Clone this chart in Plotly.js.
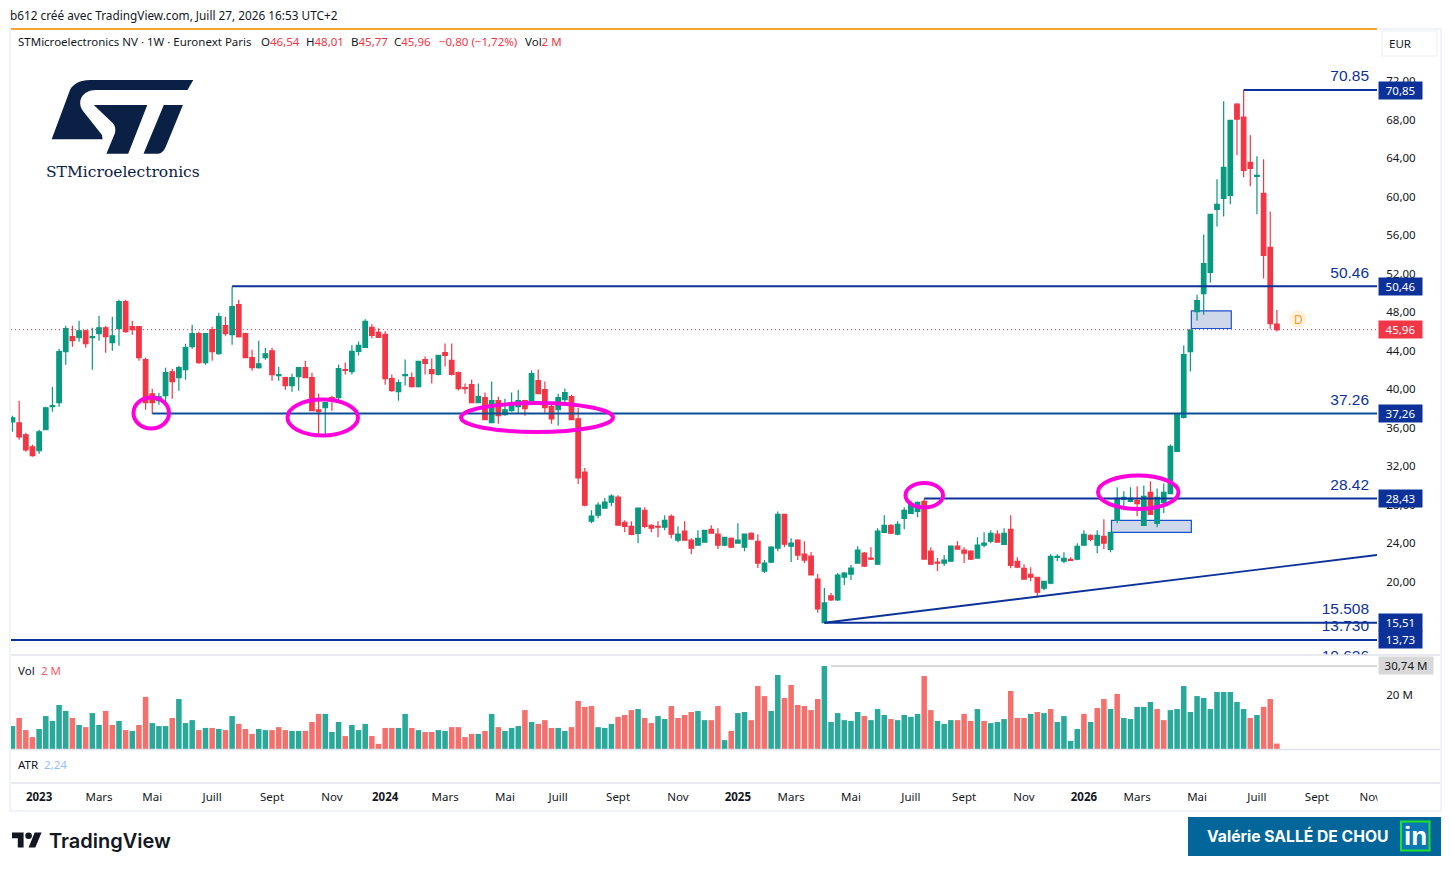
<!DOCTYPE html>
<html>
<head>
<meta charset="utf-8">
<script src="https://cdn.plot.ly/plotly-3.0.1.min.js"></script>
<style>html,body{margin:0;padding:0;background:#fff;overflow:hidden}</style>
</head>
<body>
<div id="chart" style="width:1451px;height:871px"></div>
<script>
// ---------- data ----------
const firstWeek = [2022, 11, 5];
const open = [
36.39,36.29,35.04,33.79,33.38,35.56,37.95,38.37,43.67,45.23,
45.12,45.85,45.12,45.54,46.16,44.61,46.06,48.87,46.27,46.27,
42.84,39.30,38.58,39.10,41.59,40.97,41.80,44.19,45.54,42.53,
45.96,43.46,46.37,45.44,48.56,45.54,43.05,42.01,43.05,43.77,
41.17,40.97,40.14,41.07,42.01,40.97,37.64,37.85,38.89,38.90,
41.82,41.61,43.70,44.12,46.21,45.68,45.47,40.88,39.52,41.19,
40.99,40.05,42.86,41.82,41.30,43.59,42.76,41.51,39.94,40.25,
38.38,38.90,36.29,38.58,37.12,37.54,37.96,38.58,38.58,40.67,
39.73,37.96,37.64,38.69,39.00,36.70,31.17,26.06,26.68,27.41,
28.04,28.56,25.95,25.53,24.80,27.20,25.64,25.53,25.43,26.57,
24.09,25.02,24.09,23.57,23.88,25.22,24.71,23.57,24.29,23.78,
23.36,24.81,23.98,20.88,21.81,23.26,26.77,23.47,24.09,22.64,
22.43,20.05,15.51,18.30,17.88,20.26,20.57,21.71,22.74,22.23,
21.60,24.91,25.64,24.71,26.36,26.88,27.08,28.12,22.95,21.81,
21.71,21.91,23.47,23.05,22.95,22.23,23.57,23.98,24.71,23.66,
25.22,21.90,21.17,20.55,20.24,19.10,19.62,22.31,21.90,22.11,
22.11,23.56,24.60,23.56,24.49,23.14,26.15,28.33,28.12,28.23,
25.63,29.06,25.84,28.02,28.92,33.31,36.84,43.68,47.83,49.71,
51.90,58.46,59.60,59.91,69.39,68.04,63.35,61.89,60.12,54.50,46.54];
const high = [
37.02,38.58,35.25,34.00,35.56,37.95,40.03,43.98,46.37,46.37,
46.89,45.96,46.16,47.41,46.37,47.31,49.07,49.07,46.89,46.27,
43.05,39.82,39.41,42.01,41.90,42.21,44.50,46.48,45.75,45.54,
46.27,47.72,47.31,50.43,49.07,45.64,43.88,44.81,44.09,44.09,
42.11,41.07,41.38,42.01,42.73,41.49,39.30,38.37,39.10,42.34,
42.55,44.33,44.74,47.04,46.52,46.10,45.79,41.30,40.78,42.86,
41.51,42.66,43.18,42.97,43.28,44.53,44.53,41.61,40.36,40.78,
40.36,39.42,40.57,39.00,38.79,39.42,39.73,38.69,41.72,41.82,
40.57,38.27,39.31,39.84,39.21,37.85,31.59,27.20,28.04,28.46,
28.87,28.77,26.16,26.06,27.41,27.52,25.74,26.06,26.67,26.77,
25.53,26.05,24.29,25.12,25.12,25.64,25.33,24.39,24.39,25.84,
24.71,24.91,24.71,22.02,23.47,27.08,26.77,24.29,24.19,23.98,
22.85,20.57,19.12,18.61,20.67,20.78,21.50,23.47,22.85,23.36,
25.33,26.67,25.74,26.05,27.50,28.22,28.12,28.43,23.36,22.23,
22.54,23.47,23.98,23.36,23.05,24.39,24.91,25.12,25.12,25.32,
26.67,22.31,21.59,21.28,20.24,19.82,22.63,22.63,22.83,22.31,
23.77,25.12,24.70,25.12,26.26,24.91,29.58,29.16,29.58,29.68,
29.78,30.20,29.47,29.99,34.04,37.25,44.31,45.93,49.60,55.85,
57.94,61.58,69.70,67.72,69.49,70.85,66.16,63.97,63.66,58.25,48.01];
const low = [
35.35,34.52,33.27,32.75,33.07,35.56,37.43,37.95,42.32,44.19,
44.71,44.09,41.80,44.81,43.57,43.77,44.29,45.64,45.44,42.73,
37.64,37.22,38.16,38.40,38.78,39.62,40.76,43.98,42.42,42.32,
42.73,43.36,45.33,44.40,45.12,43.05,41.69,41.90,42.84,40.66,
40.66,39.72,39.51,39.62,40.97,37.54,35.15,35.15,37.54,38.58,
41.30,41.30,43.28,44.12,45.06,45.16,40.25,39.52,38.58,40.15,
39.94,39.94,41.30,40.36,41.19,42.13,41.19,39.63,39.31,38.38,
38.38,36.60,36.29,36.18,37.02,37.44,37.23,37.02,38.58,39.31,
37.33,36.18,35.97,38.38,36.60,29.92,27.62,25.85,26.37,27.41,
27.62,25.64,24.91,24.59,23.76,25.33,24.91,24.39,25.12,24.29,
23.88,24.09,22.64,23.57,23.88,24.81,23.16,23.47,23.26,23.78,
22.95,24.19,21.19,20.67,21.71,22.95,23.36,21.81,22.02,21.71,
20.47,16.54,15.51,17.78,17.78,19.43,19.95,21.71,21.29,22.02,
21.50,24.91,24.71,24.60,25.22,26.88,26.46,22.12,21.50,20.88,
21.40,21.81,23.16,21.71,22.02,22.23,23.36,23.78,23.88,23.66,
21.17,21.17,20.03,19.82,18.16,18.89,19.51,21.90,21.69,22.00,
22.00,23.56,23.97,22.73,23.14,22.83,25.84,27.19,28.02,26.57,
25.63,26.77,25.43,26.88,28.92,33.31,36.73,41.61,46.90,47.52,
50.85,56.69,57.73,58.98,64.08,61.79,60.85,57.94,51.27,46.06,45.77];
const close = [
36.81,34.83,33.48,32.86,35.35,37.85,38.06,43.67,46.06,44.81,
45.85,44.50,45.23,46.16,45.23,45.33,48.87,45.75,45.96,43.05,
38.37,38.37,38.99,41.49,40.55,42.01,44.09,45.54,42.53,45.54,
43.67,47.31,45.54,48.35,45.23,43.05,42.01,42.42,43.46,41.28,
41.28,40.14,40.97,42.01,40.97,37.54,37.43,38.37,38.58,41.92,
41.72,43.70,44.33,46.83,45.37,45.16,40.88,39.63,40.46,41.30,
40.05,42.66,42.45,41.40,43.28,43.28,41.30,39.84,39.84,38.38,
39.00,36.60,38.58,37.02,37.64,38.06,38.58,37.75,41.40,39.31,
37.85,36.70,38.90,39.42,36.60,30.55,27.73,26.58,27.73,28.04,
28.67,25.64,25.53,24.70,27.41,25.53,25.33,25.43,26.15,24.71,
24.71,24.09,23.26,24.29,25.12,24.81,23.57,24.39,23.36,24.09,
24.71,24.19,21.71,21.71,23.36,26.77,23.67,23.78,22.54,22.02,
20.47,16.95,17.57,17.88,20.47,20.67,21.19,23.05,21.40,22.12,
25.02,25.64,24.81,25.74,27.19,27.81,28.01,22.12,21.60,21.71,
22.02,23.47,23.16,22.74,22.12,23.57,23.78,24.81,23.88,24.80,
21.48,21.28,20.03,20.24,18.68,19.82,22.42,22.42,22.21,22.00,
23.45,24.70,24.18,24.60,23.77,24.91,28.43,28.54,28.43,27.88,
28.64,26.77,28.54,29.06,33.83,37.25,43.37,45.93,48.98,52.83,
57.94,58.98,62.83,67.72,67.83,62.52,62.72,62.00,53.67,46.58,45.96];
const volumeM = [
8.5,11.5,7.0,4.4,7.4,12.2,10.4,16.3,14.1,11.5,
8.9,8.1,13.3,8.9,14.1,8.9,10.4,7.0,6.7,8.9,
19.3,9.6,8.5,8.5,11.5,18.5,9.6,10.7,7.0,7.8,
7.8,7.4,7.0,12.2,9.3,7.4,5.6,7.4,7.0,7.0,
8.1,7.0,6.7,6.7,6.7,10.0,13.0,13.0,6.3,10.0,
4.8,8.9,7.0,9.3,4.8,1.9,7.8,7.8,7.8,13.0,
7.8,7.0,6.3,6.3,7.0,6.7,8.1,8.1,4.4,5.6,
5.6,6.7,13.0,8.1,6.7,7.8,8.5,14.4,10.0,9.3,
10.7,7.8,7.8,6.7,8.1,17.8,15.6,15.9,8.1,7.8,
9.3,11.9,12.6,14.4,14.8,11.5,9.6,12.2,11.1,15.9,
11.5,12.6,13.7,14.1,10.7,10.7,15.9,3.3,6.7,13.3,
13.7,10.7,23.3,19.6,14.1,27.4,18.9,23.7,16.3,15.9,
14.4,18.5,30.74,10.0,13.3,10.7,10.4,13.7,12.2,10.7,
14.8,12.6,11.1,10.7,12.6,11.9,13.0,27.0,14.4,10.4,
9.3,10.7,10.7,13.0,10.4,14.8,10.4,9.6,10.0,11.1,
21.5,11.5,11.5,13.0,13.7,13.3,14.8,10.0,12.2,3.0,
7.4,13.0,10.0,15.2,18.5,14.8,20.4,11.5,11.1,15.6,
15.6,17.4,14.8,10.7,14.4,14.8,23.3,13.7,19.6,18.9,
14.8,21.1,21.1,21.1,17.4,14.8,11.5,12.6,15.6,18.5,2.0];
const volumeUp = [
1,0,0,0,1,1,1,1,1,0,
1,0,1,1,0,0,1,0,1,0,
0,1,1,1,0,1,1,1,0,1,
0,1,0,1,0,0,0,1,1,0,
0,0,1,1,0,0,0,1,1,1,
0,1,1,1,0,0,0,0,1,1,
0,1,0,0,1,1,0,0,0,0,
1,0,1,0,1,1,1,0,1,0,
0,0,1,1,0,0,0,0,1,1,
1,0,0,0,1,0,0,1,1,0,
0,0,0,1,1,0,0,1,0,1,
1,0,0,0,1,1,0,0,0,0,
0,0,1,1,1,1,1,1,0,1,
1,1,0,1,1,1,1,0,0,1,
1,1,0,0,0,1,0,1,1,1,
0,0,0,1,0,1,0,1,1,1,
1,0,1,0,0,1,0,1,1,1,
1,1,0,0,1,1,1,1,1,1,
1,1,1,1,1,1,0,1,0,0,0];
const priceTicks = [16,20,24,28,32,36,40,44,48,52,56,60,64,68,72];
const priceTickText = ["16,00","20,00","24,00","28,00","32,00","36,00","40,00","44,00","48,00","52,00","56,00","60,00","64,00","68,00","72,00"];
const monthDates = ["2023-01-02","2023-03-06","2023-05-01","2023-07-03","2023-09-04","2023-11-06","2024-01-01","2024-03-04","2024-05-06","2024-07-01","2024-09-02","2024-11-04","2025-01-06","2025-03-03","2025-05-05","2025-07-07","2025-09-01","2025-11-03","2026-01-05","2026-03-02","2026-05-04","2026-07-06","2026-09-07","2026-11-02"];
const monthLabels = ["<b>2023</b>","Mars","Mai","Juill","Sept","Nov","<b>2024</b>","Mars","Mai","Juill","Sept","Nov","<b>2025</b>","Mars","Mai","Juill","Sept","Nov","<b>2026</b>","Mars","Mai","Juill","Sept","Nov"];
const levelValues = [70.85,50.46,37.26,28.43,15.51,13.73];
const levelStart  = [185,33,21,137,122,0];
const levelColor  = ["#0c3299","#0c3299","#0a4f96","#0c3299","#0c3299","#0c3299"];
const levelTagText = ["70,85","50,46","37,26","28,43","15,51","13,73"];
const fibValues = [70.85,50.46,37.26,28.42,15.508,13.730,10.626];
const fibText   = ["70.85","50.46","37.26","28.42","15.508","13.730","10.626"];
const lastClose = 45.96;
const volumeHigh = 30.74;

// ---------- helpers ----------
const W = 1451, H = 871;
const X = x => x / W, Y = y => 1 - y / H;
const UI = '"Noto Sans", sans-serif';
const weekDate = i => new Date(Date.UTC(firstWeek[0], firstWeek[1], firstWeek[2] + 7 * i)).toISOString().slice(0, 10);
const dates = open.map((_, i) => weekDate(i));
const xEnd = "2026-11-09 07:00";
const pxPath = d => d.replace(/(-?[\d.]+)[ ,](-?[\d.]+)/g, (m, a, b) => X(+a).toFixed(5) + " " + Y(+b).toFixed(5));
const note = (text, x, y, o = {}) => Object.assign({
  text, xref: "paper", yref: "paper", x: X(x), y: Y(y), showarrow: false,
  xanchor: "left", yanchor: "middle", borderpad: 0,
  font: { family: UI, size: 11.5, color: "#131722" }
}, o);
const oval = (x0, y0, x1, y1) => ({ type: "circle", xref: "paper", yref: "paper", x0: X(x0), x1: X(x1), y0: Y(y0), y1: Y(y1), line: { color: "#ff00dc", width: 4 } });
const paperRect = (x0, y0, x1, y1, fill, line) => ({ type: "rect", xref: "paper", yref: "paper", x0: X(x0), x1: X(x1), y0: Y(y0), y1: Y(y1), fillcolor: fill, line: line || { width: 0 } });
const hline = (y, x0, x1, color, width) => ({ type: "line", xref: "paper", yref: "paper", x0: X(x0), x1: X(x1), y0: Y(y), y1: Y(y), line: { color, width } });
const pxShape = (d, fill) => ({ type: "path", xref: "paper", yref: "paper", path: pxPath(d), fillcolor: fill, line: { width: 0 } });
const boxLine = { color: "#1c4fd0", width: 1.2 };

// ---------- traces ----------
const candles = {
  type: "candlestick", x: dates, open, high, low, close, xaxis: "x", yaxis: "y",
  increasing: { line: { color: "#089981", width: 1.2 }, fillcolor: "#089981" },
  decreasing: { line: { color: "#f23645", width: 1.2 }, fillcolor: "#f23645" },
  whiskerwidth: 0, hoverinfo: "skip"
};
const volume = {
  type: "bar", x: dates, y: volumeM, xaxis: "x", yaxis: "y2",
  marker: { color: volumeUp.map(u => u ? "#29a99a" : "#f4706c"), line: { width: 0 } },
  hoverinfo: "skip"
};
const fibLabels = {
  type: "scatter", mode: "text", x: fibValues.map(() => "2026-11-01"),
  y: fibValues.map(v => v + 0.5), text: fibText, textposition: "top left",
  textfont: { family: '"Liberation Sans", sans-serif', size: 15.5, color: "#0c3299" },
  xaxis: "x", yaxis: "y", hoverinfo: "skip", cliponaxis: true
};

// ---------- drawings ----------
const shapes = [
  { type: "rect", layer: "below", xref: "x", yref: "y", x0: "2026-04-28", x1: "2026-06-09", y0: 46.08, y1: 47.92, fillcolor: "#cfd8ea", line: boxLine },
  { type: "rect", layer: "below", xref: "x", yref: "y", x0: "2026-02-03", x1: "2026-04-28", y0: 24.90, y1: 26.15, fillcolor: "#cfd8ea", line: boxLine },
  { type: "line", xref: "paper", yref: "y", x0: X(11), x1: X(1377), y0: lastClose, y1: lastClose, line: { color: "#f23645", width: 1, dash: "1px,3px" } },
  ...levelValues.map((v, i) => ({
    type: "line", xref: i === 5 ? "paper" : "x", yref: "y",
    x0: i === 5 ? X(11) : dates[levelStart[i]], x1: i === 5 ? X(1377) : xEnd, y0: v, y1: v,
    line: { color: levelColor[i], width: 2 }
  })),
  { type: "line", xref: "x", yref: "y", x0: dates[122], x1: xEnd, y0: 15.51, y1: 22.55, line: { color: "#0c3299", width: 1.8 } },
  { type: "line", xref: "x", yref: "y2", x0: dates[123], x1: xEnd, y0: volumeHigh, y1: volumeHigh, line: { color: "#d8d8d8", width: 2 } },
  oval(133.5, 397.5, 169, 428.5),
  oval(287.5, 399.5, 358, 435.5),
  oval(461, 403, 613, 432),
  oval(905.5, 483, 943, 507.5),
  oval(1098, 475.5, 1178.5, 509),
  // pane frame
  hline(655, 11, 1441, "#e0e3eb", 1.3),
  hline(749.5, 11, 1441, "#e0e3eb", 1.3),
  hline(783, 11, 1441, "#e0e3eb", 1.3),
  paperRect(1377.5, 785, 1440, 809, "#ffffff"),
  paperRect(10, 29, 1441, 811, "rgba(0,0,0,0)", { color: "#f0f3fa", width: 2 }),
  hline(29, 11, 1377, "#f7a52c", 2),
  { type: "rect", xref: "paper", yref: "paper", x0: X(1382), x1: X(1437), y0: Y(31), y1: Y(56), fillcolor: "#fff", line: { color: "#eceef3", width: 1 } },
  // D marker
  { type: "circle", xref: "paper", yref: "paper", x0: X(1289), x1: X(1307), y0: Y(310), y1: Y(328), fillcolor: "#fff3e0", line: { width: 0 } },
  // ST logo
  pxShape("M193.3,80 L187.5,90 L95.7,90 C83,90 76,101 83,111 L102,135 L102.6,139.3 L51.7,139.3 L70,90 C73,84 80,80 90,80 Z", "#0a2145"),
  pxShape("M93.8,105 L147.3,105 L128.2,153.7 L106.4,153.7 L115,133 C116,129 115,126 112.9,123.3 Z", "#0a2145"),
  pxShape("M163.8,105 L182.9,105 L166.5,145 C164.5,150 162,153.7 158,153.7 L143.5,153.7 Z", "#0a2145"),
  // TradingView logo
  pxShape("M12,832.5 L23.6,832.5 L23.6,847.5 L17.8,847.5 L17.8,838.3 L12,838.3 Z", "#131722"),
  { type: "circle", xref: "paper", yref: "paper", x0: X(25.3), x1: X(31.9), y0: Y(832.5), y1: Y(839.1), fillcolor: "#131722", line: { width: 0 } },
  pxShape("M34.7,832.5 L41.6,832.5 L35.3,847.5 L28.6,847.5 Z", "#131722"),
  // author badge
  paperRect(1188, 817, 1441, 856, "#03669a"),
  paperRect(1401, 821.5, 1429.5, 850.5, "#0a78b5", { color: "#22e02c", width: 2 })
];

const annotations = [
  note("b612 créé avec TradingView.com, Juill 27, 2026 16:53 UTC+2", 9, 15, { font: { family: UI, size: 11.8, color: "#131722" } }),
  note("STMicroelectronics NV · 1W · Euronext Paris", 17, 42),
  note('O<span style="color:#f23645">46,54</span>', 260, 42),
  note('H<span style="color:#f23645">48,01</span>', 305, 42),
  note('B<span style="color:#f23645">45,77</span>', 350, 42),
  note('C<span style="color:#f23645">45,96</span>', 393, 42),
  note('<span style="color:#f23645">−0,80 (−1,72%)</span>', 438, 42),
  note('Vol<span style="color:#f23645">2 M</span>', 524, 42),
  note("EUR", 1400, 43.5, { xanchor: "center" }),
  note("STMicroelectronics", 122.5, 172, { xanchor: "center", font: { family: '"DejaVu Serif", serif', size: 15.5, color: "#0a2145" } }),
  note("Vol", 17, 670.5),
  note("2 M", 40, 670.5, { font: { family: UI, size: 11.5, color: "#f4606a" } }),
  note("ATR", 17, 764.5),
  note("2,24", 43, 764.5, { font: { family: UI, size: 11.5, color: "#90bff9" } }),
  ...levelValues.map((v, i) => ({
    text: levelTagText[i], xref: "paper", yref: "y", x: X(1378), y: v, showarrow: false, xanchor: "left", yanchor: "middle",
    bgcolor: "#0c3299", width: 43, height: 16.5, borderpad: 0, align: "center", valign: "middle",
    font: { family: UI, size: 11.5, color: "#fff" }
  })),
  { text: "45,96", xref: "paper", yref: "y", x: X(1378), y: lastClose, showarrow: false, xanchor: "left", yanchor: "middle",
    bgcolor: "#f23645", width: 43, height: 16.5, borderpad: 0, align: "center", valign: "middle", font: { family: UI, size: 11.5, color: "#fff" } },
  { text: "30,74 M", xref: "paper", yref: "y2", x: X(1378), y: volumeHigh, showarrow: false, xanchor: "left", yanchor: "middle",
    bgcolor: "#d8d8d8", width: 54, height: 17, borderpad: 0, align: "center", valign: "middle", font: { family: UI, size: 11.5, color: "#131722" } },
  note("D", 1298, 319, { xanchor: "center", font: { family: UI, size: 12, color: "#f7931a" } }),
  note("TradingView", 47.5, 841, { font: { family: '"Inter", sans-serif', size: 20, color: "#131722", weight: 600 } }),
  note("<b>Valérie SALLÉ DE CHOU</b>", 1206, 836, { font: { family: '"Inter", sans-serif', size: 15.7, color: "#ffffff" } }),
  note("<b>in</b>", 1415, 836, { xanchor: "center", font: { family: '"Liberation Sans", sans-serif', size: 26, color: "#ffffff" } })
];

const layout = {
  width: W, height: H, margin: { l: 0, r: 0, t: 0, b: 0 }, paper_bgcolor: "#fff", plot_bgcolor: "#fff",
  showlegend: false, boxgap: 0.32, boxgroupgap: 0, bargap: 0.17,
  font: { family: UI, size: 11.5, color: "#131722" },
  xaxis: {
    type: "date", domain: [X(11), X(1377)], range: ["2022-12-03 10:00", xEnd],
    anchor: "free", position: Y(788), rangeslider: { visible: false },
    tickmode: "array", tickvals: monthDates, ticktext: monthLabels, ticks: "", showgrid: false, zeroline: false, showline: false,
    tickfont: { family: UI, size: 11.5, color: "#131722" }
  },
  yaxis: {
    domain: [Y(655), Y(31)], range: [12.16, 76.99], side: "right", anchor: "x", tickmode: "array",
    tickvals: priceTicks, ticktext: priceTickText, showgrid: false, zeroline: false, showline: false,
    ticks: "outside", ticklen: 6, tickcolor: "rgba(0,0,0,0)", ticklabelshift: 2, tickfont: { family: UI, size: 11.5, color: "#131722" }
  },
  yaxis2: {
    domain: [Y(749), Y(656)], range: [0, 34.44], side: "right", anchor: "x", tickmode: "array",
    tickvals: [20], ticktext: ["20 M"], showgrid: false, zeroline: false, showline: false,
    ticks: "outside", ticklen: 6, tickcolor: "rgba(0,0,0,0)", tickfont: { family: UI, size: 11.5, color: "#131722" }
  },
  shapes, annotations
};
Plotly.newPlot("chart", [volume, candles, fibLabels], layout, { displayModeBar: false, staticPlot: true });
</script>
</body>
</html>
